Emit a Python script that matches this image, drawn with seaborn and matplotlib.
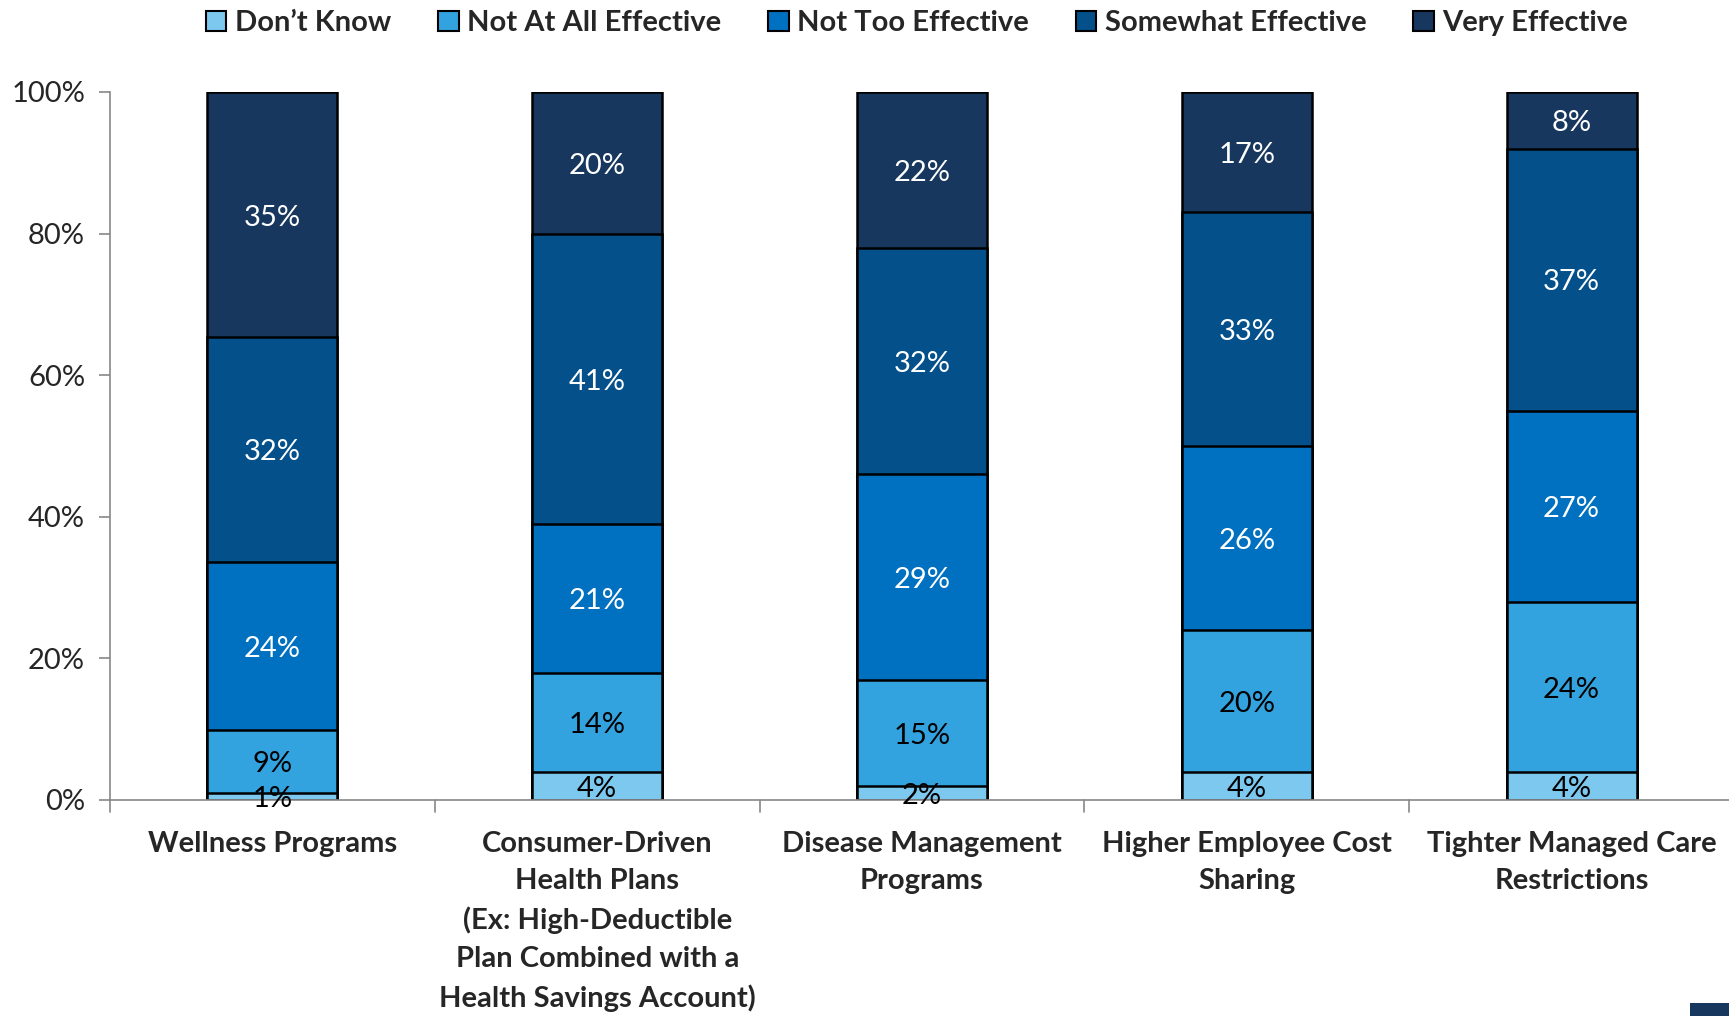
import numpy as np
import pandas as pd
import seaborn as sns
import matplotlib.pyplot as plt
from matplotlib.patches import Patch, Rectangle

# --- data ---
programs = ['Wellness Programs',
            'Consumer-Driven\nHealth Plans\n(Ex: High-Deductible\nPlan Combined with a\nHealth Savings Account)',
            'Disease Management\nPrograms',
            'Higher Employee Cost\nSharing',
            'Tighter Managed Care\nRestrictions']
series = ['Don\u2019t Know', 'Not At All Effective', 'Not Too Effective',
          'Somewhat Effective', 'Very Effective']
dont_know = [1, 4, 2, 4, 4]
not_at_all = [9, 14, 15, 20, 24]
not_too = [24, 21, 29, 26, 27]
somewhat = [32, 41, 32, 33, 37]
very = [35, 20, 22, 17, 8]

colors = ['#7DC8EF', '#33A3E0', '#0070C0', '#03508A', '#17375E']
text_colors = ['black', 'black', 'white', 'white', 'white']

sns.set_style('white')
plt.rcParams['font.family'] = ['Lato', 'DejaVu Sans']

vals = np.array([dont_know, not_at_all, not_too, somewhat, very], dtype=float)
share = vals / vals.sum(axis=0) * 100
cum = share.cumsum(axis=0)

fig = plt.figure(figsize=(17.29, 10.16), dpi=100)
ax = fig.add_axes([110 / 1729, 1 - 800 / 1016, 1624 / 1729, 708 / 1016])

# draw cumulative bars from top down so each layer covers the one above's lower part
for i in range(len(series) - 1, -1, -1):
    df = pd.DataFrame({'program': programs, 'value': cum[i]})
    sns.barplot(data=df, x='program', y='value', color=colors[i], width=0.4,
                edgecolor='black', linewidth=1.8, saturation=1, ax=ax, zorder=2)

# segment labels
for i in range(len(series)):
    for j in range(len(programs)):
        bottom = cum[i][j] - share[i][j]
        ax.text(j, bottom + share[i][j] / 2 - 0.4, f'{int(vals[i][j])}%',
                ha='center', va='center', fontsize=21, color=text_colors[i], zorder=3)

ax.set_xlim(-0.5, 4.5)
ax.set_ylim(0, 100)
ax.set_yticks(range(0, 101, 20))
ax.set_yticklabels([f'{t}%' for t in range(0, 101, 20)], fontsize=21)
ax.set_xticks(range(len(programs)))
ax.set_xticklabels(programs, fontsize=21, fontweight='bold', linespacing=1.55, va='top')
ax.set_xlabel('')
ax.set_ylabel('')
ax.tick_params(axis='x', length=0, pad=22)
ax.tick_params(axis='y', length=8, width=1.2, color='#888888', direction='out', left=True, pad=10)
# boundary tick marks between categories
for b in np.arange(-0.5, 4.6, 1):
    ax.plot([b, b], [0, -1.7], color='#888888', lw=1.2, clip_on=False)

for s in ['top', 'right']:
    ax.spines[s].set_visible(False)
for s in ['left', 'bottom']:
    ax.spines[s].set_color('#888888')
    ax.spines[s].set_linewidth(1.2)

handles = [Patch(facecolor=c, edgecolor='black', linewidth=1.5) for c in colors]
fig.legend(handles, series, loc='center', bbox_to_anchor=(917 / 1729, 1 - 23 / 1016),
           ncol=5, frameon=False, prop={'size': 21, 'weight': 'bold'},
           handlelength=0.7, handleheight=0.7, handletextpad=0.3, columnspacing=1.6)

fig.patches.append(Rectangle((1690 / 1729, 0), 40 / 1729, 13 / 1016,
                             transform=fig.transFigure, facecolor='#17375E', edgecolor='none'))

plt.savefig('out.png', dpi=100)
plt.close()
